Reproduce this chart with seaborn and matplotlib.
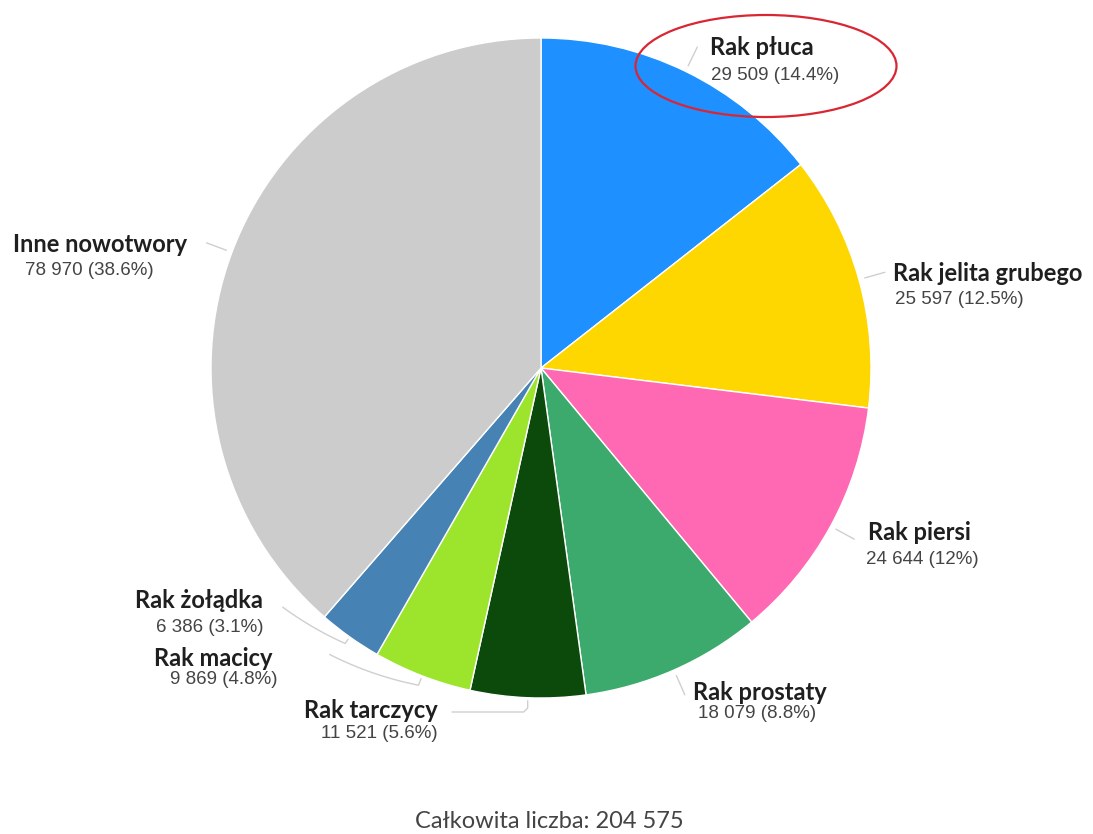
import numpy as np
import matplotlib
matplotlib.use("Agg")
import matplotlib.pyplot as plt
from matplotlib.patches import Ellipse
import seaborn as sns

# --- data -------------------------------------------------------------
labels = ["Rak płuca", "Rak jelita grubego", "Rak piersi", "Rak prostaty",
          "Rak tarczycy", "Rak macicy", "Rak żołądka", "Inne nowotwory"]
values = [29509, 25597, 24644, 18079, 11521, 9869, 6386, 78970]
value_texts = ["29 509 (14.4%)", "25 597 (12.5%)", "24 644 (12%)", "18 079 (8.8%)",
               "11 521 (5.6%)", "9 869 (4.8%)", "6 386 (3.1%)", "78 970 (38.6%)"]
total_text = "Całkowita liczba: 204 575"

colors = sns.color_palette(["#1E90FF", "#FFD700", "#FF69B4", "#3BAA6C",
                            "#0B4A0B", "#9DE52D", "#4682B4", "#CCCCCC"])

sns.set_theme(style="white")
plt.rcParams["font.family"] = ["Lato", "DejaVu Sans"]

W, H = 1093, 834
fig = plt.figure(figsize=(W / 100, H / 100), dpi=100)
ax = fig.add_axes([0, 0, 1, 1])

CX, CY, R = 541, H - 368, 330
wedges, _ = ax.pie(values, colors=colors, startangle=90, counterclock=False,
                   center=(CX, CY), radius=R,
                   wedgeprops=dict(edgecolor="white", linewidth=1))
ax.set_xlim(0, W)
ax.set_ylim(0, H)
ax.set_aspect("equal")
ax.axis("off")

LINE = "#CFCFCF"


def polar(angle_deg, radius):
    a = np.deg2rad(angle_deg)
    return CX + radius * np.cos(a), CY + radius * np.sin(a)


mids = [(w.theta1 + w.theta2) / 2 for w in wedges]

# straight leaders for the large slices
for i in [0, 1, 2, 3, 7]:
    x0, y0 = polar(mids[i], R + 6)
    x1, y1 = polar(mids[i], R + 27)
    ax.plot([x0, x1], [y0, y1], color=LINE, lw=1, solid_capstyle="round")

# curved leaders for the small slices on the lower left
for i, (r_hook, r_end, d_ang) in {6: (8, 22, -11.8), 5: (10, 26, -15.3)}.items():
    hx0, hy0 = polar(mids[i], R + 3)
    angs = np.linspace(mids[i], mids[i] + d_ang, 40)
    rads = np.linspace(R + r_hook, R + r_end, 40)
    xs = [hx0] + [CX + r * np.cos(np.deg2rad(a)) for a, r in zip(angs, rads)]
    ys = [hy0] + [CY + r * np.sin(np.deg2rad(a)) for a, r in zip(angs, rads)]
    ax.plot(xs, ys, color=LINE, lw=1)

# thyroid leader: drop down, then run left
tx, ty = polar(mids[4], R + 3)
ax.plot([tx, tx, tx - 4, 452], [ty, H - 708, H - 712, H - 712], color=LINE, lw=1)

# --- labels -----------------------------------------------------------
# (name x, name y, number x, number y, alignment) in pixel coordinates
label_pos = [
    (710, 47, 711, 75, "left"),
    (893, 273, 895, 299, "left"),
    (868, 533, 866, 560, "left"),
    (693, 692, 698, 714, "left"),
    (438, 710, 438, 733, "right"),
    (273, 658, 278, 679, "right"),
    (263, 600, 263, 627, "right"),
    (13, 244, 25, 270, "left"),
]
for name, vtxt, (nx, ny, vx, vy, ha) in zip(labels, value_texts, label_pos):
    ax.text(nx, H - ny, name, ha=ha, va="center", fontsize=17,
            fontweight="bold", color="#1F1F1F", family=["Lato", "DejaVu Sans"])
    ax.text(vx, H - vy, vtxt, ha=ha, va="center", fontsize=13.5,
            color="#444444", family=["Liberation Sans", "DejaVu Sans"])

# highlight around the lung cancer label
ax.add_patch(Ellipse((766, H - 66), 261, 102, fill=False,
                     edgecolor="#D92632", lw=1.6, zorder=5))

ax.text(549, H - 822, total_text, ha="center", va="center", fontsize=17,
        color="#444444", family=["Lato", "DejaVu Sans"])

fig.savefig("out.png", dpi=100)
